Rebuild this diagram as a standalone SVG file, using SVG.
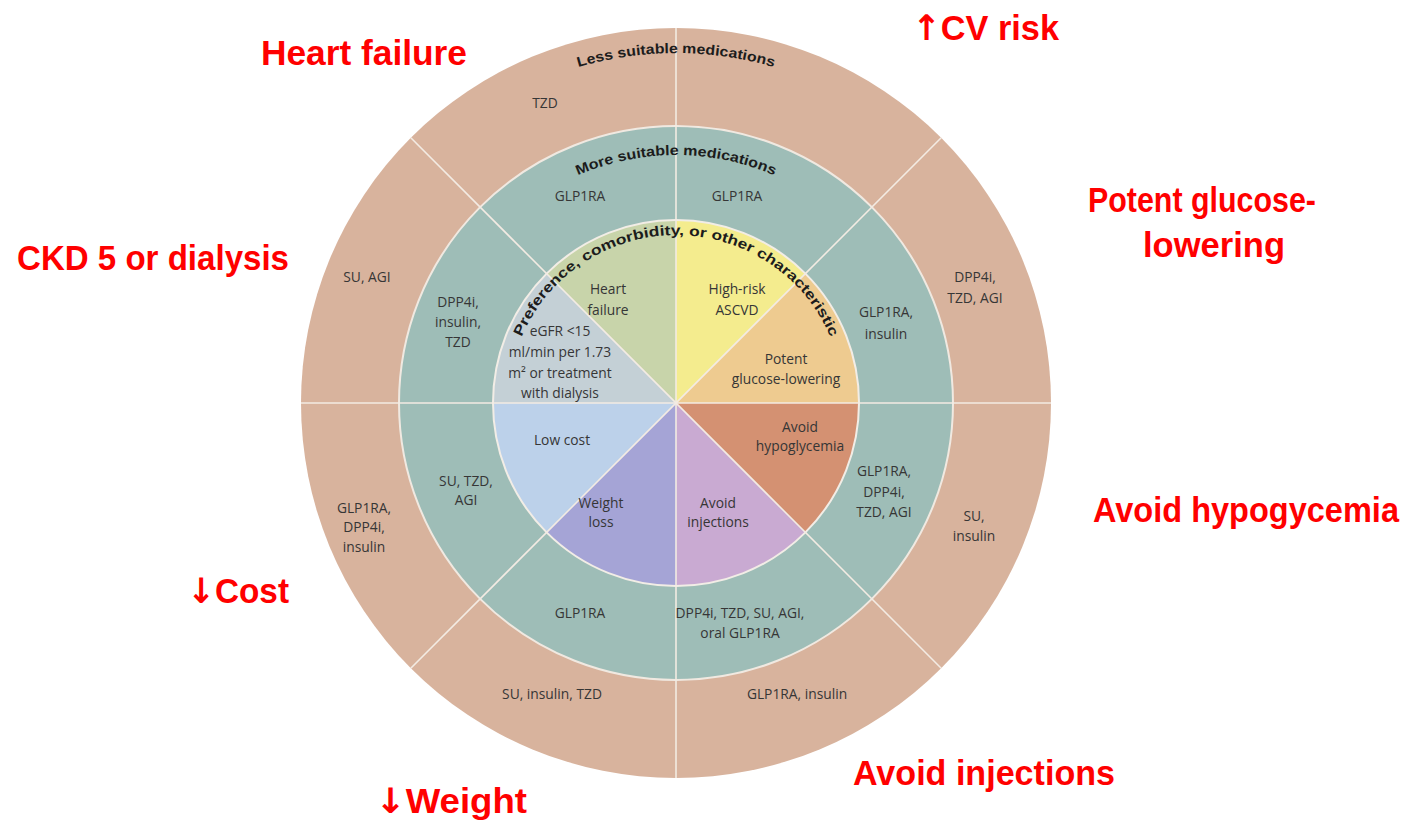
<svg xmlns="http://www.w3.org/2000/svg" width="1422" height="821" viewBox="0 0 1422 821">
<defs>
<style>
.red{font-family:"Liberation Sans",Arial,sans-serif;font-weight:bold;font-size:35px;fill:#ff0000}
.arr{font-family:"DejaVu Sans",sans-serif;font-weight:bold}
.t{font-family:"Open Sans","Noto Sans",sans-serif;font-size:13.8px;fill:#363636;text-anchor:middle}
.arc{font-family:"Liberation Sans",Arial,sans-serif;font-weight:bold;font-size:14px;fill:#1c1c1c}
.div{stroke:#f3ebe3;stroke-width:1.6;fill:none}
</style>
<path id="arcLess" d="M326,403 A350,350 0 0 1 1026,403"/>
<path id="arcMore" d="M428,403 A248,248 0 0 1 924,403"/>
<path id="arcPref" d="M508,403 A168,168 0 0 1 844,403"/>
</defs>
<rect width="1422" height="821" fill="#ffffff"/>
<g id="rings">
<circle cx="676" cy="403" r="375" fill="#d8b39d"/>
<circle cx="676" cy="403" r="277" fill="#9ebdb7" stroke="#f0e9e1" stroke-width="2"/>
</g>
<g id="inner-sectors">
<path id="s-hf" d="M676,403 L676,220 A183,183 0 0 0 546.6,273.6 Z" fill="#c8d4aa"/>
<path id="s-ascvd" d="M676,403 L805.4,273.6 A183,183 0 0 0 676,220 Z" fill="#f4ec8e"/>
<path id="s-potent" d="M676,403 L859,403 A183,183 0 0 0 805.4,273.6 Z" fill="#eecb90"/>
<path id="s-hypo" d="M676,403 L805.4,532.4 A183,183 0 0 0 859,403 Z" fill="#d49172"/>
<path id="s-inj" d="M676,403 L676,586 A183,183 0 0 0 805.4,532.4 Z" fill="#c9aad2"/>
<path id="s-weight" d="M676,403 L546.6,532.4 A183,183 0 0 0 676,586 Z" fill="#a5a4d6"/>
<path id="s-cost" d="M676,403 L493,403 A183,183 0 0 0 546.6,532.4 Z" fill="#bcd1ea"/>
<path id="s-egfr" d="M676,403 L546.6,273.6 A183,183 0 0 0 493,403 Z" fill="#c4d0d6"/>
<circle cx="676" cy="403" r="183" fill="none" stroke="#f2ede6" stroke-width="2"/>
</g>
<g id="dividers">
<line class="div" x1="676" y1="28" x2="676" y2="778"/>
<line class="div" x1="301" y1="403" x2="1051" y2="403"/>
<line class="div" x1="410.8" y1="137.8" x2="941.2" y2="668.2"/>
<line class="div" x1="410.8" y1="668.2" x2="941.2" y2="137.8"/>
</g>
<g id="arc-labels">
<text class="arc"><textPath href="#arcLess" startOffset="50%" text-anchor="middle" textLength="198" lengthAdjust="spacingAndGlyphs">Less suitable medications</textPath></text>
<text class="arc"><textPath href="#arcMore" startOffset="50%" text-anchor="middle" textLength="202" lengthAdjust="spacingAndGlyphs">More suitable medications</textPath></text>
<text class="arc"><textPath href="#arcPref" startOffset="67.9" textLength="94.6" lengthAdjust="spacingAndGlyphs">Preference,</textPath></text>
<text class="arc"><textPath href="#arcPref" startOffset="167.4" textLength="104.3" lengthAdjust="spacingAndGlyphs">comorbidity,</textPath></text>
<text class="arc"><textPath href="#arcPref" startOffset="276.5" textLength="17.4" lengthAdjust="spacingAndGlyphs">or</textPath></text>
<text class="arc"><textPath href="#arcPref" startOffset="298.7" textLength="43.4" lengthAdjust="spacingAndGlyphs">other</textPath></text>
<text class="arc"><textPath href="#arcPref" startOffset="346.9" textLength="113" lengthAdjust="spacingAndGlyphs">characteristic</textPath></text>
</g>
<g id="outer-ring-labels">
<text class="t" x="545" y="108">TZD</text>
<text class="t" x="367" y="282">SU, AGI</text>
<text class="t" x="975" y="282">DPP4i,</text>
<text class="t" x="975" y="303">TZD, AGI</text>
<text class="t" x="364" y="513">GLP1RA,</text>
<text class="t" x="364" y="532">DPP4i,</text>
<text class="t" x="364" y="552">insulin</text>
<text class="t" x="974" y="521">SU,</text>
<text class="t" x="974" y="541">insulin</text>
<text class="t" x="552" y="699">SU, insulin, TZD</text>
<text class="t" x="797" y="699">GLP1RA, insulin</text>
</g>
<g id="middle-ring-labels">
<text class="t" x="580" y="201">GLP1RA</text>
<text class="t" x="737" y="201">GLP1RA</text>
<text class="t" x="458" y="307">DPP4i,</text>
<text class="t" x="458" y="327">insulin,</text>
<text class="t" x="458" y="347">TZD</text>
<text class="t" x="886" y="317">GLP1RA,</text>
<text class="t" x="886" y="339">insulin</text>
<text class="t" x="466" y="486">SU, TZD,</text>
<text class="t" x="466" y="505">AGI</text>
<text class="t" x="884" y="476">GLP1RA,</text>
<text class="t" x="884" y="497">DPP4i,</text>
<text class="t" x="884" y="517">TZD, AGI</text>
<text class="t" x="580" y="618">GLP1RA</text>
<text class="t" x="740" y="618">DPP4i, TZD, SU, AGI,</text>
<text class="t" x="740" y="638">oral GLP1RA</text>
</g>
<g id="inner-labels">
<text class="t" x="608" y="294">Heart</text>
<text class="t" x="608" y="315">failure</text>
<text class="t" x="737" y="294">High-risk</text>
<text class="t" x="737" y="315">ASCVD</text>
<text class="t" x="560" y="336">eGFR &lt;15</text>
<text class="t" x="560" y="357">ml/min per 1.73</text>
<text class="t" x="560" y="378">m² or treatment</text>
<text class="t" x="560" y="398">with dialysis</text>
<text class="t" x="786" y="364">Potent</text>
<text class="t" x="786" y="384">glucose-lowering</text>
<text class="t" x="800" y="432">Avoid</text>
<text class="t" x="800" y="451">hypoglycemia</text>
<text class="t" x="562" y="445">Low cost</text>
<text class="t" x="601" y="508">Weight</text>
<text class="t" x="601" y="527">loss</text>
<text class="t" x="718" y="508">Avoid</text>
<text class="t" x="718" y="527">injections</text>
</g>
<g id="red-labels">
<text class="red" x="261" y="65" textLength="206" lengthAdjust="spacingAndGlyphs">Heart failure</text>
<text class="red" x="912" y="40" textLength="147" lengthAdjust="spacingAndGlyphs"><tspan class="arr">↑</tspan>CV risk</text>
<text class="red" x="1088" y="212" textLength="228" lengthAdjust="spacingAndGlyphs">Potent glucose-</text>
<text class="red" x="1143" y="257" textLength="142" lengthAdjust="spacingAndGlyphs">lowering</text>
<text class="red" x="17" y="270" textLength="272" lengthAdjust="spacingAndGlyphs">CKD 5 or dialysis</text>
<text class="red" x="1093" y="522" textLength="306" lengthAdjust="spacingAndGlyphs">Avoid hypogycemia</text>
<text class="red" x="187" y="603" textLength="102" lengthAdjust="spacingAndGlyphs"><tspan class="arr">↓</tspan>Cost</text>
<text class="red" x="853" y="785" textLength="262" lengthAdjust="spacingAndGlyphs">Avoid injections</text>
<text class="red" x="375" y="813" textLength="152" lengthAdjust="spacingAndGlyphs"><tspan class="arr">↓</tspan>Weight</text>
</g>
</svg>
